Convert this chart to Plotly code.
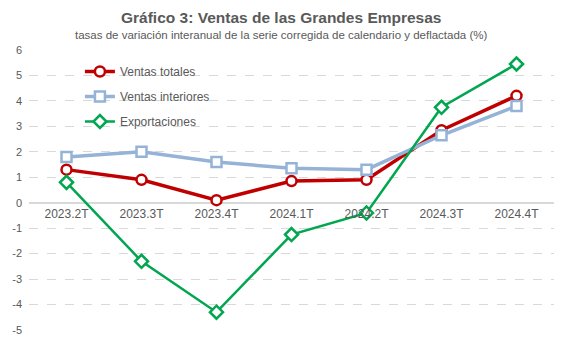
import plotly.graph_objects as go

categories = ["2023.2T", "2023.3T", "2023.4T", "2024.1T", "2024.2T", "2024.3T", "2024.4T"]
ventas_totales = [1.3, 0.9, 0.1, 0.85, 0.9, 2.85, 4.2]
ventas_interiores = [1.8, 2.0, 1.6, 1.35, 1.3, 2.65, 3.8]
exportaciones = [0.8, -2.3, -4.3, -1.25, -0.4, 3.75, 5.45]
y_ticks = [6, 5, 4, 3, 2, 1, 0, -1, -2, -3, -4, -5]

FONT = "Liberation Sans, Arial, sans-serif"
GRAY = "#595959"

fig = go.Figure()
fig.add_trace(go.Scatter(
    x=categories, y=ventas_totales, name="Ventas totales", mode="lines+markers",
    line=dict(color="#C00000", width=3.5),
    marker=dict(symbol="circle", size=10, color="white", line=dict(color="#C00000", width=2.5)),
    legendgroup="a"))
fig.add_trace(go.Scatter(
    x=categories, y=ventas_interiores, name="Ventas interiores", mode="lines+markers",
    line=dict(color="#95B3D7", width=3.5),
    marker=dict(symbol="square", size=10, color="white", line=dict(color="#95B3D7", width=2.5)),
    legendgroup="b"))
fig.add_trace(go.Scatter(
    x=categories, y=exportaciones, name="Exportaciones", mode="lines+markers",
    line=dict(color="#00A650", width=2.5),
    marker=dict(symbol="diamond", size=10, color="white", line=dict(color="#00A650", width=2.5)),
    legendgroup="c"))

fig.add_annotation(text="<b>Gráfico 3: Ventas de las Grandes Empresas</b>",
                   xref="paper", yref="paper", x=0.48, y=1, yshift=33, yanchor="middle",
                   showarrow=False, font=dict(size=15.5, color=GRAY, family=FONT))
fig.add_annotation(text="tasas de variación interanual de la serie corregida de calendario y deflactada (%)",
                   xref="paper", yref="paper", x=0.48, y=1, yshift=15, yanchor="middle",
                   showarrow=False, font=dict(size=11.5, color=GRAY, family=FONT))

fig.update_layout(
    width=567, height=353,
    margin=dict(l=29, r=13, t=50, b=23),
    paper_bgcolor="white", plot_bgcolor="white",
    font=dict(family=FONT, color=GRAY, size=12),
    showlegend=True,
    legend=dict(x=0.097, y=0.975, xanchor="left", yanchor="top", bgcolor="rgba(0,0,0,0)",
                font=dict(size=12, color=GRAY, family=FONT), tracegroupgap=6, itemwidth=30),
    xaxis=dict(type="category", range=[-0.5, 6.5], anchor="free", position=5/11,
               showgrid=False, showline=False, ticks="", tickfont=dict(size=12, color=GRAY),
               zeroline=False, fixedrange=True, ticklabelstandoff=2),
    yaxis=dict(range=[-5, 6], tickvals=y_ticks, ticktext=[str(v) for v in y_ticks],
               showgrid=True, gridcolor="#D9D9D9", griddash="dash", gridwidth=1,
               zeroline=True, zerolinecolor="#D9D9D9", zerolinewidth=2,
               showline=False, tickfont=dict(size=11, color=GRAY), ticklabelstandoff=6),
)

fig.write_html("out.html")
